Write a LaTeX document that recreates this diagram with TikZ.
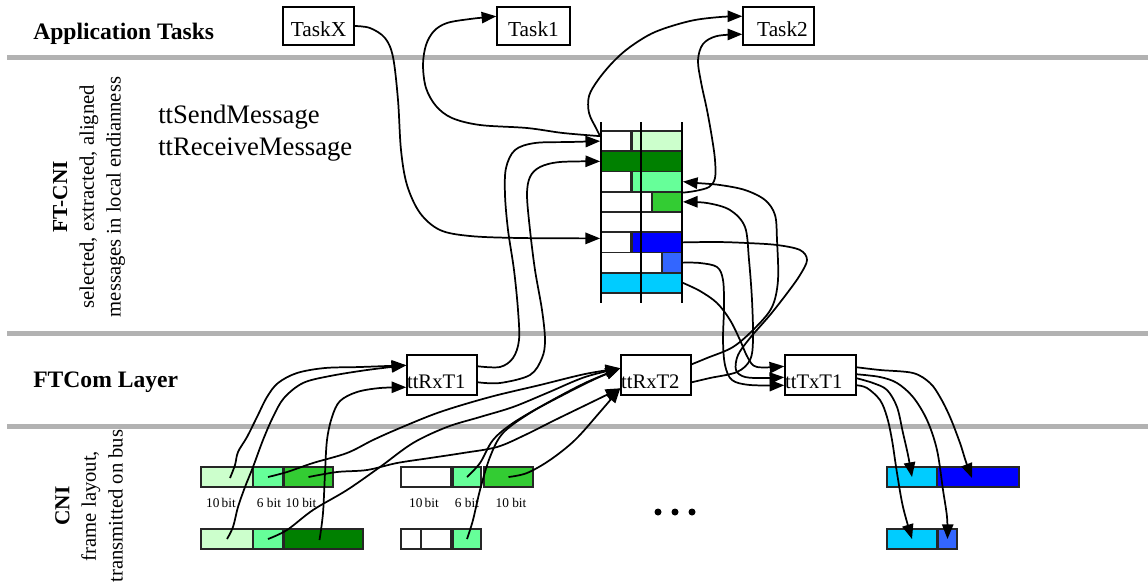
\documentclass[tikz,border=0pt]{standalone}
\usepackage{fontspec}
\setmainfont{Liberation Serif}
\usetikzlibrary{arrows.meta,calc,fit}

\definecolor{gLight}{HTML}{CCFFCC}
\definecolor{gMid}{HTML}{66FF99}
\definecolor{gBright}{HTML}{33CC33}
\definecolor{gDark}{HTML}{008000}
\definecolor{bFull}{HTML}{0000FF}
\definecolor{bLight}{HTML}{3366FF}
\definecolor{cyanC}{HTML}{00CCFF}
\definecolor{ruleGray}{HTML}{B2B2B2}

\begin{document}
\begin{tikzpicture}[x=0.75pt,y=-0.75pt,
  rulebar/.style={draw=ruleGray,line width=3.75pt},
  layertitle/.style={font=\bfseries\fontsize{17.7}{20}\selectfont,inner sep=0pt},
  sidenote/.style={rotate=90,align=center,inner sep=0pt,font=\fontsize{15.5}{20}\selectfont},
  apiname/.style={anchor=base west,inner sep=0pt,font=\fontsize{20}{24}\selectfont},
  taskbox/.style={draw,line width=1.1pt,inner sep=0pt,minimum height=28.5pt,
                  text height=15pt,text depth=0pt,font=\fontsize{16}{18}\selectfont},
  combox/.style={draw,line width=1.1pt,inner xsep=0pt,inner ysep=0pt,minimum height=30pt,
                 align=left,text height=19.5pt,text depth=0pt,font=\fontsize{15.5}{18}\selectfont},
  cell/.style={draw=black!85,line width=1.3pt,inner sep=0pt},
  gridline/.style={line width=1.1pt},
  bitlabel/.style={anchor=base,inner sep=0pt,font=\fontsize{10}{12}\selectfont},
  wire/.style={line width=1.3pt,-{Triangle[length=11pt,width=8.5pt]}},
  hand/.style={smooth,tension=0.55}]
\useasboundingbox (0,0) rectangle (1148,587);

% layer separators
\draw[rulebar] (7,57) -- (1148,57);
\draw[rulebar] (7,333) -- (1148,333);
\draw[rulebar] (7,426) -- (1148,426);

% layer titles
\node[layertitle,anchor=base west] (apptitle) at (33,39) {Application Tasks};
\node[layertitle,anchor=base west] (ftcomtitle) at (33,387) {FTCom Layer};
\node[sidenote] (ftcninote) at (89,197)
  {{\bfseries\fontsize{16}{20}\selectfont FT-CNI}\\selected, extracted, aligned\\messages in local endianness};
\node[sidenote] (cninote) at (89,506)
  {{\bfseries\fontsize{16}{20}\selectfont CNI}\\frame layout,\\transmitted on bus};
\node[apiname] (sendapi) at (158,123) {ttSendMessage};
\node[apiname] (recvapi) at (158,155) {ttReceiveMessage};

% application tasks
\node[taskbox,minimum width=53.25pt] (taskx) at (318.5,26) {TaskX};
\node[taskbox,minimum width=54.75pt] (task1) at (533.5,26) {Task1};
\node[taskbox,minimum width=53.25pt] (task2) at (778.5,26) {\hspace{6pt}Task2};

% FTCom tasks
\node[combox,text width=52.5pt] (rx1) at (442,375) {ttRxT1};
\node[combox,text width=52.5pt] (rx2) at (656,375) {ttRxT2};
\node[combox,text width=53.25pt] (tx1) at (820.5,375) {ttTxT1};

% FT-CNI message table
\node[cell,fill=white,fit={(601,131) (631,151.25)}] (m1a) {};
\node[cell,fill=gLight,fit={(632,131) (682,151.25)}] (m1b) {};
\node[cell,fill=gDark,fit={(601,151.25) (682,171.5)}] (m2a) {};
\node[cell,fill=white,fit={(601,171.5) (631,191.75)}] (m3a) {};
\node[cell,fill=gMid,fit={(632,171.5) (682,191.75)}] (m3b) {};
\node[cell,fill=white,fit={(601,191.75) (641,212)}] (m4a) {};
\node[cell,fill=white,fit={(641,191.75) (652,212)}] (m4b) {};
\node[cell,fill=gBright,fit={(652,191.75) (682,212)}] (m4c) {};
\node[cell,fill=white,fit={(601,212) (641,232.25)}] (m5a) {};
\node[cell,fill=white,fit={(641,212) (682,232.25)}] (m5b) {};
\node[cell,fill=white,fit={(601,232.25) (631,252.5)}] (m6a) {};
\node[cell,fill=bFull,fit={(632,232.25) (682,252.5)}] (m6b) {};
\node[cell,fill=white,fit={(601,252.5) (641,272.75)}] (m7a) {};
\node[cell,fill=white,fit={(641,252.5) (662,272.75)}] (m7b) {};
\node[cell,fill=bLight,fit={(662,252.5) (682,272.75)}] (m7c) {};
\node[cell,fill=cyanC,fit={(601,272.75) (682,293)}] (m8a) {};
\draw[gridline] (601,122) -- (601,303);
\draw[gridline] (641,122) -- (641,303);
\draw[gridline] (682,122) -- (682,303);

% CNI frames
\node[cell,fill=gLight,fit={(201,467) (253,487)}] (f1a1) {};
\node[cell,fill=gMid,fit={(253,467) (283,487)}] (f1a2) {};
\node[cell,fill=gBright,fit={(284,467) (333,487)}] (f1a3) {};
\node[cell,fill=white,fit={(401,467) (451,487)}] (f2a1) {};
\node[cell,fill=gMid,fit={(453,467) (481,487)}] (f2a2) {};
\node[cell,fill=gBright,fit={(484,467) (533,487)}] (f2a3) {};
\node[cell,fill=gLight,fit={(201,529) (253,549)}] (f1b1) {};
\node[cell,fill=gMid,fit={(253,529) (283,549)}] (f1b2) {};
\node[cell,fill=gDark,fit={(284,529) (363,549)}] (f1b3) {};
\node[cell,fill=white,fit={(401,529) (421,549)}] (f2b1) {};
\node[cell,fill=white,fit={(421,529) (451,549)}] (f2b2) {};
\node[cell,fill=gMid,fit={(453,529) (481,549)}] (f2b3) {};
\node[cell,fill=cyanC,fit={(887,467) (937,487)}] (f3a1) {};
\node[cell,fill=bFull,fit={(937,467) (1019,487)}] (f3a2) {};
\node[cell,fill=cyanC,fit={(887,529) (937,549)}] (f3b1) {};
\node[cell,fill=bLight,fit={(938,529) (957,549)}] (f3b2) {};

\node[bitlabel] (b1) at (221,507) {10\,bit};
\node[bitlabel] (b2) at (269,507) {6 bit};
\node[bitlabel] (b3) at (301,507) {10 bit};
\node[bitlabel] (b4) at (424,507) {10\,bit};
\node[bitlabel] (b5) at (467,507) {6 bit};
\node[bitlabel] (b6) at (511,507) {10 bit};

\fill (658,512) circle (3.5);
\fill (675,512) circle (3.5);
\fill (692,512) circle (3.5);

% ports
\coordinate (t1in) at ($(task1.north west)+(0,10)$);
\coordinate (t2in1) at ($(task2.north west)+(0,10)$);
\coordinate (t2in2) at ($(task2.north west)+(0,28)$);
\coordinate (m1out) at ($(m1a.north west)+(0,6)$);
\coordinate (m6in) at ($(m6a.west)+(0,-4)$);
\coordinate (rx1in1) at ($(rx1.north west)+(0,11)$);
\coordinate (rx1in2) at ($(rx1.north west)+(0,33)$);
\coordinate (rx1out1) at ($(rx1.north east)+(0,12)$);
\coordinate (rx1out2) at ($(rx1.north east)+(0,28)$);
\coordinate (rx2in1) at ($(rx2.north west)+(0,14)$);
\coordinate (rx2in2) at ($(rx2.north west)+(0,34)$);
\coordinate (rx2out1) at ($(rx2.north east)+(0,10)$);
\coordinate (rx2out2) at ($(rx2.north east)+(0,28)$);
\coordinate (tx1in1) at ($(tx1.north west)+(0,12)$);
\coordinate (tx1in2) at ($(tx1.north west)+(0,23)$);
\coordinate (tx1in3) at ($(tx1.north west)+(0,31)$);
\coordinate (tx1out1) at ($(tx1.north east)+(0,13)$);
\coordinate (tx1out2) at ($(tx1.north east)+(0,20)$);
\coordinate (tx1out3) at ($(tx1.north east)+(0,24)$);
\coordinate (tx1out4) at ($(tx1.north east)+(0,31)$);

% application tasks <-> FT-CNI
\draw[wire] plot[hand] coordinates {(taskx.east) (370,28) (385,38) (393,57) (398,100) (401,150) (407,185) (420,213) (440,230) (470,236) (520,238) (m6in)};
\draw[wire] plot[hand] coordinates {(m1out) (563,133) (527,128) (480,125) (452,118) (436,106) (426,88) (423,65) (426,45) (434,31) (447,23) (470,19) (t1in)};
\draw[wire] plot[hand] coordinates {(m1out) (596,128) (589,113) (589,96) (598,80) (613,62) (630,47) (655,32) (690,21) (720,17) (t2in1)};
\draw[wire] plot[hand] coordinates {(m3b.south east) (695,191) (709,187) (715,178) (715,160) (712,138) (707,110) (701,82) (698,60) (703,44) (717,36) (t2in2)};

% FTCom receive tasks -> FT-CNI
\draw[wire] plot[hand] coordinates {(rx1out1) (500,367) (513,358) (519,340) (518,310) (514,270) (508,230) (505,195) (506,168) (515,150) (535,143) (570,142) (m1a.west)};
\draw[wire] plot[hand] coordinates {(rx1out2) (500,383) (530,375) (542,358) (545,340) (542,310) (535,270) (530,230) (527,195) (530,177) (540,167) (560,162) (m2a.west)};
\draw[wire] plot[hand] coordinates {(rx2out1) (707,358) (733,347) (755,328) (772,307) (778,280) (777,240) (775,215) (765,200) (745,190) (720,185) (697,183) (m3b.east)};
\draw[wire] plot[hand] coordinates {(rx2out2) (710,378) (737,372) (750,360) (753,340) (752,300) (749,260) (745,227) (730,210) (707,203) (m4c.east)};

% FT-CNI -> FTCom transmit task
\draw[wire] plot[hand] coordinates {(m6b.east) (717,242) (747,243) (777,245) (800,250) (807,260) (800,275) (788,292) (770,315) (750,338) (738,355) (736,370) (745,377) (765,378) (tx1in2)};
\draw[wire] plot[hand] coordinates {(m7c.east) (700,263) (717,267) (723,280) (724,307) (723,340) (725,365) (732,380) (750,385) (tx1in3)};
\draw[wire] plot[hand] coordinates {(m8a.east) (700,291) (717,303) (730,320) (740,340) (748,358) (757,367) (tx1in1)};

% CNI frames -> FTCom receive tasks
\draw[wire] plot[hand] coordinates {($(f1a1.center)+(3,1)$) (235,465) (238,452) (247,437) (257,417) (267,397) (278,383) (297,373) (325,368) (360,367) (rx1in1)};
\draw[wire] plot[hand] coordinates {(f1b1.center) (233,527) (238,507) (245,487) (253,467) (263,440) (273,417) (284,398) (303,383) (330,376) (367,370) (rx1in1)};
\draw[wire] plot[hand] coordinates {($(f1b3.center)+(-4,1)$) (323,513) (325,473) (327,440) (332,417) (340,401) (357,392) (380,388) (rx1in2)};
\draw[wire] plot[hand] coordinates {(f1a2.center) (287,472) (313,463) (347,453) (373,440) (400,428) (440,412) (490,397) (540,385) (585,374) (rx2in1)};
\draw[wire] plot[hand] coordinates {(f1b2.center) (287,530) (313,510) (347,490) (380,467) (413,443) (447,427) (480,417) (513,407) (547,393) (585,377) (rx2in1)};
\draw[wire] plot[hand] coordinates {(f2a2.center) (480,463) (493,440) (513,423) (547,403) (585,383) (rx2in1)};
\draw[wire] plot[hand] coordinates {(f2b3.center) (473,520) (480,490) (490,457) (503,433) (530,413) (563,395) (595,379) (rx2in1)};
\draw[wire] plot[hand] coordinates {(f1a3.center) (337,472) (367,470) (397,463) (430,458) (463,453) (497,447) (525,435) (555,420) (590,403) (rx2in2)};
\draw[wire] plot[hand] coordinates {(f2a3.center) (527,473) (550,460) (575,440) (600,412) (rx2in2)};

% FTCom transmit task -> CNI frame
\draw[wire] plot[hand] coordinates {(tx1out1) (880,370) (913,373) (930,383) (940,397) (950,417) (960,443) (966,462) ($(f3a2.center)+(-6,1)$)};
\draw[wire] plot[hand] coordinates {(tx1out2) (880,377) (897,383) (913,397) (927,420) (937,450) (943,490) (947,517) (f3b2.center)};
\draw[wire] plot[hand] coordinates {(tx1out3) (873,383) (887,390) (897,407) (903,433) (908,455) (f3a1.center)};
\draw[wire] plot[hand] coordinates {(tx1out4) (867,388) (880,400) (887,417) (892,440) (897,473) (903,507) (f3b1.center)};

\end{tikzpicture}
\end{document}
